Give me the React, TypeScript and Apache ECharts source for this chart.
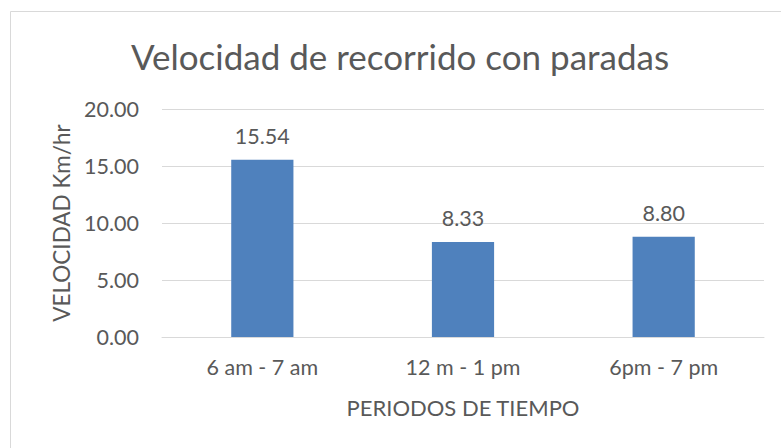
import React, { useEffect, useRef } from "react";
import * as echarts from "echarts";

const categories = ["6 am - 7 am", "12 m - 1 pm", "6pm - 7 pm"];
const velocidad = [15.54, 8.33, 8.8];
const yTicks = { min: 0, max: 20, interval: 5 };

const FONT = "Lato";
const TEXT = "#595959";

export default function App() {
  const ref = useRef<HTMLDivElement>(null);
  useEffect(() => {
    if (!ref.current) return;
    const chart = echarts.init(ref.current, undefined, { renderer: "svg" });
    chart.setOption({
      animation: false,
      backgroundColor: "#ffffff",
      textStyle: { fontFamily: FONT, color: TEXT },
      title: {
        text: "Velocidad de recorrido con paradas",
        left: 395,
        top: 33,
        textAlign: "center",
        textStyle: { fontFamily: FONT, fontSize: 35, fontWeight: "normal", color: TEXT },
      },
      graphic: [
        {
          type: "rect",
          shape: { x: 10.5, y: 11.5, width: 900, height: 600 },
          style: { fill: "none", stroke: "#D9D9D9", lineWidth: 1 },
          silent: true,
        },
      ],
      grid: { left: 162, right: 17, top: 109, bottom: 111, containLabel: false },
      xAxis: {
        type: "category",
        data: categories,
        axisLine: { show: true, lineStyle: { color: "#D9D9D9", width: 1 } },
        axisTick: { show: false },
        axisLabel: { fontFamily: FONT, fontSize: 21.5, color: TEXT, margin: 19 },
        name: "PERIODOS DE TIEMPO",
        nameLocation: "middle",
        nameGap: 59,
        nameTextStyle: { fontFamily: FONT, fontSize: 22, color: TEXT },
      },
      yAxis: {
        type: "value",
        min: yTicks.min,
        max: yTicks.max,
        interval: yTicks.interval,
        axisLine: { show: false },
        axisTick: { show: false },
        splitLine: { lineStyle: { color: "#D9D9D9", width: 1 } },
        axisLabel: {
          fontFamily: FONT,
          fontSize: 21.5,
          color: TEXT,
          margin: 23,
          formatter: (v: number) => v.toFixed(2),
        },
        name: "VELOCIDAD Km/hr",
        nameLocation: "middle",
        nameGap: 86,
        nameRotate: 90,
        nameTextStyle: { fontFamily: FONT, fontSize: 22.5, color: TEXT },
      },
      series: [
        {
          type: "bar",
          data: velocidad,
          barWidth: "31%",
          itemStyle: { color: "#4F81BD" },
          label: {
            show: true,
            position: "top",
            distance: 13,
            fontFamily: FONT,
            fontSize: 21.5,
            color: TEXT,
            formatter: (p: any) => Number(p.value).toFixed(2),
          },
        },
      ],
    });
    return () => chart.dispose();
  }, []);
  return (
    <div
      ref={ref}
      style={{ position: "absolute", left: 0, top: 0, width: 781, height: 448 }}
    />
  );
}
